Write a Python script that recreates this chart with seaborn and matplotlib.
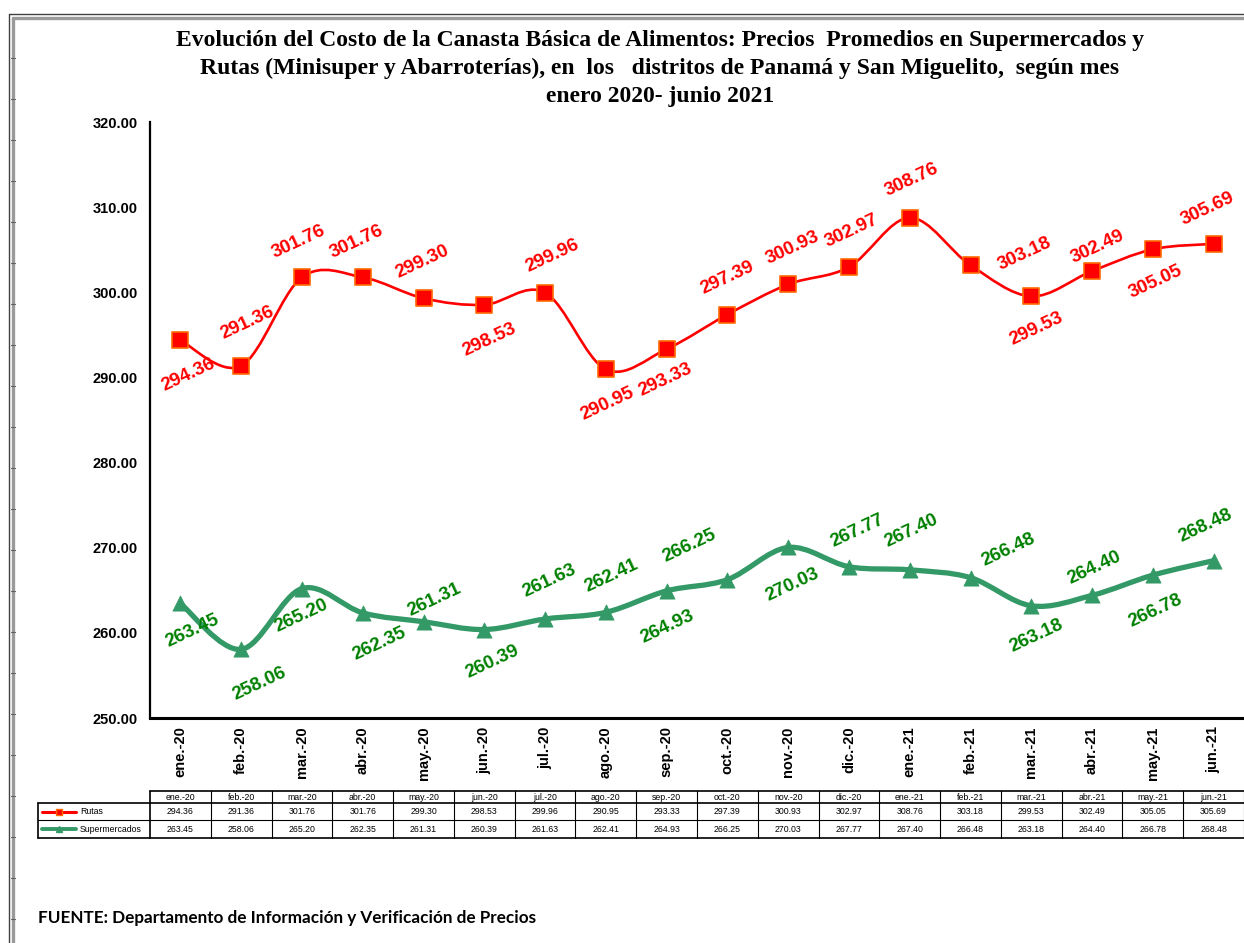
import numpy as np
import pandas as pd
import matplotlib
matplotlib.use("Agg")
import matplotlib.pyplot as plt
import matplotlib.transforms as mtransforms
from matplotlib.path import Path
from matplotlib.patches import PathPatch
from matplotlib.lines import Line2D
import seaborn as sns

# ---------------- data ----------------
months = ["ene.-20", "feb.-20", "mar.-20", "abr.-20", "may.-20", "jun.-20",
          "jul.-20", "ago.-20", "sep.-20", "oct.-20", "nov.-20", "dic.-20",
          "ene.-21", "feb.-21", "mar.-21", "abr.-21", "may.-21", "jun.-21"]
rutas = [294.36, 291.36, 301.76, 301.76, 299.30, 298.53, 299.96, 290.95, 293.33,
         297.39, 300.93, 302.97, 308.76, 303.18, 299.53, 302.49, 305.05, 305.69]
supermercados = [263.45, 258.06, 265.20, 262.35, 261.31, 260.39, 261.63, 262.41, 264.93,
                 266.25, 270.03, 267.77, 267.40, 266.48, 263.18, 264.40, 266.78, 268.48]
series_names = ["Rutas", "Supermercados"]
yticks = [250, 260, 270, 280, 290, 300, 310, 320]

title = ("Evolución del Costo de la Canasta Básica de Alimentos: Precios  Promedios en Supermercados y\n"
         "Rutas (Minisuper y Abarroterías), en  los   distritos de Panamá y San Miguelito,  según mes\n"
         "enero 2020- junio 2021")
source = "FUENTE: Departamento de Información y Verificación de Precios"

# label offsets (pixels) for data labels -- styling only
off_rutas = [(8, -35), (6, 43), (-3, 35), (-6, 35), (-1, 36), (5, -35), (7, 37), (2, -35),
             (-1, -31), (0, 37), (4, 37), (3, 36), (2, 38), (54, 11), (5, -33), (6, 24),
             (3, -33), (-6, 35)]
off_super = [(12, -27), (18, -34), (-1, -27), (17, -31), (11, 22), (8, -32), (4, 38), (6, 36),
             (1, -36), (-38, 34), (4, -37), (8, 36), (2, 39), (38, 28), (5, -30), (2, 28),
             (3, -36), (-8, 35)]

RED = "#FF0000"
GREEN_LINE = "#339966"
GREEN_TXT = "#008000"

df = pd.DataFrame({"mes": months, "idx": np.arange(len(months)),
                   "Rutas": rutas, "Supermercados": supermercados})

sns.set_style("white")
plt.rcParams['font.family'] = ['Liberation Sans', 'DejaVu Sans']
plt.rcParams.update({"text.color": "black", "axes.labelcolor": "black",
                     "xtick.color": "black", "ytick.color": "black"})

W, H = 1244, 943
fig = plt.figure(figsize=(W / 100, H / 100), dpi=100)
ax = fig.add_axes([150 / W, 1 - 718 / H, 1094 / W, 596 / H])


def smooth_path(xs, ys):
    pts = np.column_stack([xs, ys]).astype(float)
    n = len(pts)
    verts = [pts[0]]
    codes = [Path.MOVETO]
    for i in range(n - 1):
        p0 = pts[i - 1] if i > 0 else pts[i]
        p1, p2 = pts[i], pts[i + 1]
        p3 = pts[i + 2] if i + 2 < n else pts[i + 1]
        verts += [p1 + (p2 - p0) / 6.0, p2 - (p3 - p1) / 6.0, p2]
        codes += [Path.CURVE4] * 3
    return Path(verts, codes)


ax.add_patch(PathPatch(smooth_path(df["idx"], df["Rutas"]), fill=False,
                       edgecolor=RED, lw=1.9, zorder=3, capstyle="round"))
ax.add_patch(PathPatch(smooth_path(df["idx"], df["Supermercados"]), fill=False,
                       edgecolor=GREEN_LINE, lw=3.8, zorder=3, capstyle="round"))

sns.scatterplot(data=df, x="idx", y="Rutas", marker="s", s=120, color=RED,
                edgecolor="#FF6A00", linewidth=1.2, zorder=5, ax=ax, legend=False)
sns.scatterplot(data=df, x="idx", y="Supermercados", marker="^", s=120, color=GREEN_LINE,
                edgecolor=GREEN_LINE, linewidth=0.5, zorder=5, ax=ax, legend=False)

for i, (v, o) in enumerate(zip(rutas, off_rutas)):
    ax.annotate(f"{v:.2f}", (i, v), xytext=o, textcoords="offset pixels",
                ha="center", va="center", rotation=25, rotation_mode="anchor",
                color=RED, fontsize=13.5, fontweight="bold", zorder=6)
for i, (v, o) in enumerate(zip(supermercados, off_super)):
    ax.annotate(f"{v:.2f}", (i, v), xytext=o, textcoords="offset pixels",
                ha="center", va="center", rotation=25, rotation_mode="anchor",
                color=GREEN_TXT, fontsize=13.5, fontweight="bold", zorder=6)

# axes styling
ax.set_xlim(-0.5, len(months) - 0.5)
ax.set_ylim(yticks[0], yticks[-1])
ax.set_yticks(yticks)
ax.set_yticklabels([f"{t:.2f}" for t in yticks], fontsize=10.5, fontweight="bold")
ax.set_xticks(df["idx"])
ax.set_xticklabels(months, rotation=90, fontsize=10.5, fontweight="bold")
ax.set_xticks(np.arange(-0.5, len(months), 1), minor=True)
ax.tick_params(axis="x", which="major", length=0, pad=6)
ax.tick_params(axis="x", which="minor", length=5, width=1, color="black", direction="out")
ax.tick_params(axis="y", length=6, width=1, color="black", direction="out", pad=3)
ax.set_xlabel("")
ax.set_ylabel("")
for s in ["top", "right"]:
    ax.spines[s].set_visible(False)
ax.spines["left"].set_linewidth(1.6)
ax.spines["left"].set_color("black")
ax.spines["bottom"].set_linewidth(2.2)
ax.spines["bottom"].set_color("black")
ax.grid(False)

# ---------------- data table ----------------
trans = mtransforms.blended_transform_factory(ax.transData, ax.transAxes)


def ya(py):
    return (718 - py) / 596.0


col_w_px = 1094 / len(months)
x_left = -0.5 - 112 / col_w_px
x_right = len(months) - 0.5
y_h_top, y_r1, y_r2, y_bot = ya(791), ya(803), ya(820), ya(838)
lkw = dict(transform=trans, clip_on=False, color="black")
ax.add_line(Line2D([-0.5, x_right], [y_h_top, y_h_top], lw=1.2, **lkw))
ax.add_line(Line2D([x_left, x_right], [y_r1, y_r1], lw=1.2, **lkw))
ax.add_line(Line2D([x_left, x_right], [y_r2, y_r2], lw=0.8, **lkw))
ax.add_line(Line2D([x_left, x_right], [y_bot, y_bot], lw=1.2, **lkw))
ax.add_line(Line2D([x_left, x_left], [y_r1, y_bot], lw=1.2, **lkw))
for k in range(len(months) + 1):
    xk = k - 0.5
    ax.add_line(Line2D([xk, xk], [y_h_top, y_bot], lw=1.2 if k == 0 else 0.8, **lkw))

tkw = dict(transform=trans, clip_on=False, ha="center", va="center", fontsize=6.3)
for i, m in enumerate(months):
    ax.text(i, (y_h_top + y_r1) / 2, m, **tkw)
    ax.text(i, (y_r1 + y_r2) / 2, f"{rutas[i]:.2f}", **tkw)
    ax.text(i, (y_r2 + y_bot) / 2, f"{supermercados[i]:.2f}", **tkw)

fpx = lambda px, py: (px / W, 1 - py / H)
for name, yy, col, mk, mec in [(series_names[0], 812, RED, "s", "#FF6A00"),
                                (series_names[1], 829, GREEN_LINE, "^", GREEN_LINE)]:
    (x0, y0), (x1, _) = fpx(42, yy), fpx(76, yy)
    fig.add_artist(Line2D([x0, x1], [y0, y0], color=col, lw=2.2 if mk == "s" else 2.8,
                          transform=fig.transFigure))
    fig.add_artist(Line2D([(x0 + x1) / 2], [y0], color=col, marker=mk, markersize=5,
                          markeredgecolor=mec, lw=0, transform=fig.transFigure))
    fig.text(80 / W, y0, name, ha="left", va="center", fontsize=6.3)

# ---------------- titles & source ----------------
fig.text(660 / W, 1 - 30 / H, title, ha="center", va="top", fontsize=17,
         fontweight="bold", family=["Liberation Serif", "DejaVu Serif"], linespacing=1.42,
         color="black")
fig.text(38 / W, 1 - 918 / H, source, ha="left", va="center", fontsize=12.3,
         fontweight="bold", family=["Lato", "DejaVu Sans"], color="black")

# ---------------- outer frame ----------------
fkw = dict(transform=fig.transFigure)
fig.add_artist(Line2D([8.5 / W, 8.5 / W], [0, 1 - 14 / H], color="#404040", lw=1.0, **fkw))
fig.add_artist(Line2D([8.5 / W, 1], [1 - 14 / H, 1 - 14 / H], color="#404040", lw=1.0, **fkw))
fig.add_artist(Line2D([13 / W, 13 / W], [0, 1 - 17.5 / H], color="#9a9a9a", lw=2.4, **fkw))
fig.add_artist(Line2D([13 / W, 1], [1 - 17.5 / H, 1 - 17.5 / H], color="#9a9a9a", lw=2.4, **fkw))
for py in np.arange(58, 930, 41):
    fig.add_artist(Line2D([11 / W, 15 / W], [1 - py / H, 1 - py / H], color="#606060", lw=0.8, **fkw))

fig.savefig("out.png", dpi=100, facecolor="white")
